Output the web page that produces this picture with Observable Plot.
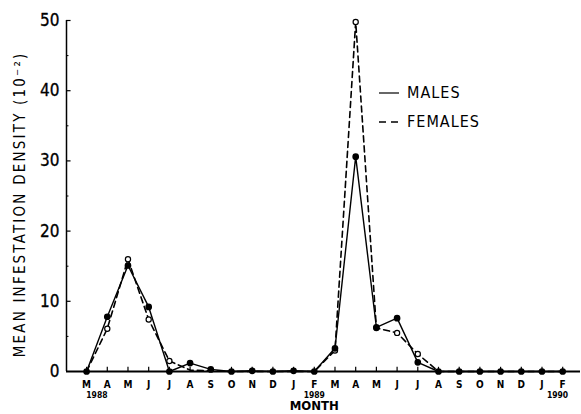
<!DOCTYPE html>
<html><head><meta charset="utf-8">
<script src="https://cdn.jsdelivr.net/npm/d3@7"></script>
<script src="https://cdn.jsdelivr.net/npm/@observablehq/plot@0.6"></script>
<style>
body{margin:0;background:#fff;}
#wrap{position:relative;width:581px;height:414px;}
#legend{position:absolute;left:378px;top:78px;font-family:"DejaVu Sans Condensed","DejaVu Sans",sans-serif;font-size:16px;letter-spacing:1px;color:#000;line-height:29px;}
#legend div{display:flex;align-items:center;}
#legend svg{margin-right:7px;}
.ylab text{letter-spacing:2.2px;}
</style></head>
<body><div id="wrap"><div id="legend"></div></div>
<script>
const monthLabels = ["M","A","M","J","J","A","S","O","N","D","J","F","M","A","M","J","J","A","S","O","N","D","J","F"];
const males   = [0,7.8,15.1,9.2,0,1.2,0.3,0,0.1,0,0.1,0,3.3,30.6,6.3,7.6,1.3,0,0,0,0,0,0,0];
const females = [0,6.1,16.0,7.4,1.5,0.2,0.1,0,0,0,0,0,3.0,49.8,6.2,5.5,2.5,0,0,0,0,0,0,0];
const yearLabels = [{x:0.5,t:"1988"},{x:11,t:"1989"},{x:22.75,t:"1990"}];
const yMajor = [0,10,20,30,40,50];
const yMinor = [5,15,25,35,45];
const seriesNames = ["MALES","FEMALES"];

const idx = d3.range(monthLabels.length);
const maleData = idx.map(i => ({i, v: males[i]}));
const femData = idx.map(i => ({i, v: females[i]}));
const font = '"DejaVu Sans Condensed","DejaVu Sans",sans-serif';
const x0 = -0.97;

const chart = Plot.plot({
  width: 581, height: 414,
  marginLeft: 66, marginRight: 1, marginTop: 20, marginBottom: 43,
  style: {fontFamily: font, background: "#fff", color: "#000"},
  x: {type: "linear", domain: [x0, 23.86], axis: null},
  y: {type: "linear", domain: [0, 50], axis: null},
  marks: [
    Plot.ruleX([x0], {stroke: "#000", strokeWidth: 1.5}),
    Plot.ruleY([0], {stroke: "#000", strokeWidth: 2}),
    Plot.text(yMajor, {x: () => x0, y: d => d, text: d => String(d), textAnchor: "end", dx: -7, fontSize: 17, fill: "#000", stroke: "#000", strokeWidth: 0.3}),
    Plot.ruleY(yMajor.slice(1), {x1: () => x0, x2: () => x0 + 0.22, stroke: "#000", strokeWidth: 1.2}),
    Plot.ruleY(yMinor, {x1: () => x0, x2: () => x0 + 0.12, stroke: "#000", strokeWidth: 1}),
    Plot.ruleX(idx, {x: d => d, y1: 0, y2: 0.6, stroke: "#000", strokeWidth: 1.2}),
    Plot.text(idx, {x: d => d, y: () => 0, text: d => monthLabels[d], dy: 13.5, fontSize: 10, fontWeight: "bold", fill: "#000"}),
    Plot.text(yearLabels, {x: "x", y: () => 0, text: "t", dy: 23.5, fontSize: 8.5, fontWeight: "bold", fill: "#000"}),
    Plot.text(["MONTH"], {x: () => 11, y: () => 0, dy: 34.5, fontSize: 13, fontWeight: "bold", fill: "#000"}),
    Plot.text(["MEAN INFESTATION DENSITY (10\u207B\u00B2)"], {x: () => x0, y: () => 23.8, rotate: -90, dx: -46, fontSize: 15, fill: "#000", className: "ylab"}),
    Plot.line(femData, {x: "i", y: "v", stroke: "#000", strokeWidth: 1.6, strokeDasharray: "6,4"}),
    Plot.line(maleData, {x: "i", y: "v", stroke: "#000", strokeWidth: 1.4}),
    Plot.dot(femData.filter(d => d.v > 0.5), {x: "i", y: "v", r: 2.6, fill: "#fff", stroke: "#000", strokeWidth: 1.2}),
    Plot.dot(maleData, {x: "i", y: "v", r: 2.6, fill: "#000", stroke: "#000"})
  ]
});
const wrap = document.getElementById("wrap");
wrap.insertBefore(chart, wrap.firstChild);

const leg = document.getElementById("legend");
seriesNames.forEach((n, k) => {
  const row = document.createElement("div");
  row.innerHTML = `<svg width="22" height="6"><line x1="1" y1="3" x2="21" y2="3" stroke="#000" stroke-width="${k ? 1.6 : 1.2}" ${k ? 'stroke-dasharray="7,5"' : ''}/></svg><span>${n}</span>`;
  leg.appendChild(row);
});
</script></body></html>
